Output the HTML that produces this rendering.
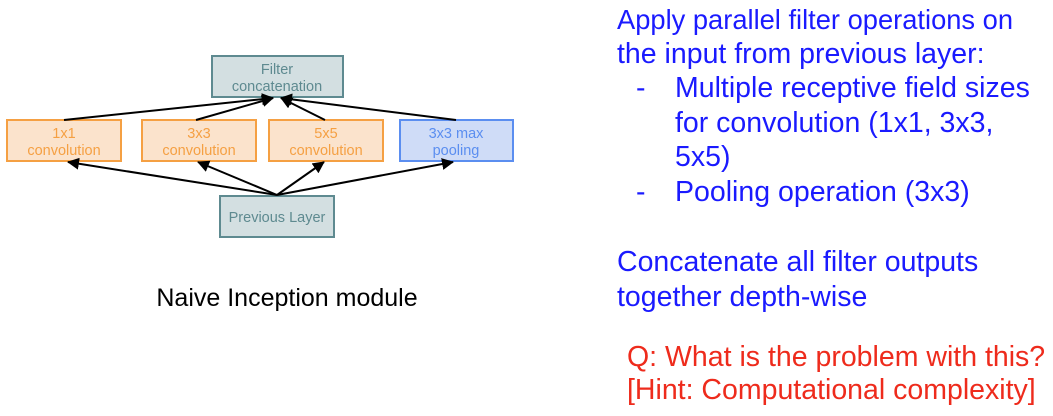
<!DOCTYPE html>
<html><head><style>
body{margin:0;width:1053px;height:416px;background:#fff;position:relative;overflow:hidden;font-family:"Liberation Sans",sans-serif}
.t{position:absolute;font-size:28.5px;line-height:34px;color:#1a1aff;white-space:nowrap}
.r{color:#ee2b1c}
</style></head><body>
<svg width="560" height="330" style="position:absolute;left:0;top:0" font-family="Liberation Sans" font-size="14.5">
<defs><marker id="a" markerWidth="12" markerHeight="12" refX="11" refY="6" orient="auto" markerUnits="userSpaceOnUse"><path d="M0,0 L12,6 L0,12 z" fill="#000"/></marker></defs>
<rect x="212" y="56" width="131" height="41" fill="#d3dfe1" stroke="#5e8a90" stroke-width="2"/>
<text x="277" y="74" text-anchor="middle" fill="#5e8a90">Filter</text>
<text x="277" y="91" text-anchor="middle" fill="#5e8a90">concatenation</text>
<g fill="#fbe3cc" stroke="#f5a043" stroke-width="2">
<rect x="7" y="120" width="114" height="41"/><rect x="142" y="120" width="114" height="41"/><rect x="269" y="120" width="114" height="41"/></g>
<rect x="400" y="120" width="113" height="41" fill="#cfdcf7" stroke="#5b8ef0" stroke-width="2"/>
<g text-anchor="middle" fill="#f5a043">
<text x="64" y="138">1x1</text><text x="64" y="155">convolution</text>
<text x="199" y="138">3x3</text><text x="199" y="155">convolution</text>
<text x="326" y="138">5x5</text><text x="326" y="155">convolution</text></g>
<text x="456" y="138" text-anchor="middle" fill="#5b8ef0">3x3 max</text>
<text x="456" y="155" text-anchor="middle" fill="#5b8ef0">pooling</text>
<rect x="220" y="196" width="114" height="41" fill="#d3dfe1" stroke="#5e8a90" stroke-width="2"/>
<text x="277" y="222" text-anchor="middle" fill="#5e8a90">Previous Layer</text>
<g stroke="#000" stroke-width="2" marker-end="url(#a)">
<line x1="64" y1="120" x2="273" y2="98"/>
<line x1="196" y1="120" x2="273" y2="98"/>
<line x1="325" y1="120" x2="281" y2="98"/>
<line x1="456" y1="120" x2="281" y2="98"/>
<line x1="277" y1="195" x2="68" y2="162"/>
<line x1="277" y1="195" x2="198" y2="162"/>
<line x1="277" y1="195" x2="324" y2="162"/>
<line x1="277" y1="195" x2="453" y2="162"/>
</g>
<text x="287" y="306" text-anchor="middle" font-size="25" fill="#000">Naive Inception module</text>
</svg>
<div class="t" style="left:617px;top:3px;font-size:27.3px">Apply parallel filter operations on</div>
<div class="t" style="left:617px;top:37px">the input from previous layer:</div>
<div class="t" style="left:636px;top:71px">-</div>
<div class="t" style="left:675px;top:71px">Multiple receptive field sizes</div>
<div class="t" style="left:675px;top:106px">for convolution (1x1, 3x3,</div>
<div class="t" style="left:675px;top:140px">5x5)</div>
<div class="t" style="left:636px;top:175px">-</div>
<div class="t" style="left:675px;top:175px">Pooling operation (3x3)</div>
<div class="t" style="left:617px;top:245px">Concatenate all filter outputs</div>
<div class="t" style="left:617px;top:280px">together depth-wise</div>
<div class="t r" style="left:627px;top:340px">Q: What is the problem with this?</div>
<div class="t r" style="left:627px;top:373px">[Hint: Computational complexity]</div>
</body></html>
